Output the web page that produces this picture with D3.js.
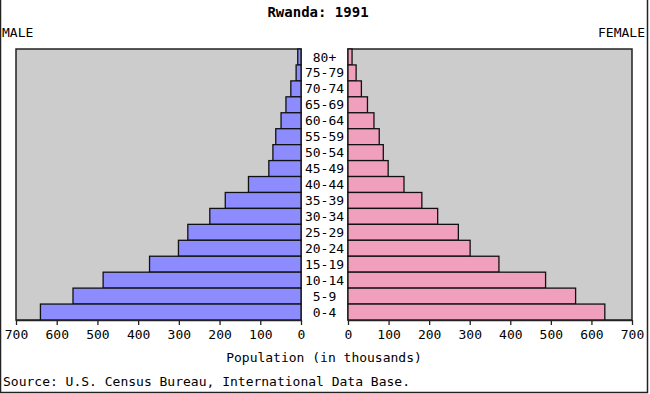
<!DOCTYPE html>
<html>
<head>
<meta charset="utf-8">
<script src="https://cdn.jsdelivr.net/npm/d3@7"></script>
<style>
  body { margin: 0; background: #fff; }
  text { font-family: "DejaVu Sans Mono", monospace; font-size: 13px; fill: #000; }
</style>
</head>
<body>
<div id="chart"></div>
<script>
// age groups, top to bottom
var ages = ["80+", "75-79", "70-74", "65-69", "60-64", "55-59", "50-54", "45-49",
            "40-44", "35-39", "30-34", "25-29", "20-24", "15-19", "10-14", "5-9", "0-4"];
// population in thousands
var male   = [8, 12, 25, 37, 49, 62, 69, 79, 129, 186, 224, 278, 301, 372, 486, 560, 640];
var female = [10, 20, 33, 48, 64, 77, 87, 99, 138, 182, 221, 272, 301, 372, 487, 561, 633];
var ticks = [0, 100, 200, 300, 400, 500, 600, 700];

var width = 650, height = 394;
var top_y = 49, bottom_y = 320;

var svg = d3.select("#chart").append("svg")
    .attr("width", width)
    .attr("height", height);

// frame (left, right, bottom)
svg.append("path")
    .attr("d", "M0.5,0 V392.5 H647.5 V0")
    .attr("fill", "none")
    .attr("stroke", "#222")
    .attr("stroke-width", 1.5);

var y = d3.scaleBand().domain(ages).range([top_y, bottom_y]).padding(0);
var xl = d3.scaleLinear().domain([0, 700]).range([301, 16]);
var xr = d3.scaleLinear().domain([0, 700]).range([348, 632]);

// panels
svg.append("rect")
    .attr("x", xl(700)).attr("y", top_y)
    .attr("width", xl(0) - xl(700)).attr("height", bottom_y - top_y)
    .attr("fill", "#cccccc").attr("stroke", "#222").attr("stroke-width", 1.5);
svg.append("rect")
    .attr("x", xr(0)).attr("y", top_y)
    .attr("width", xr(700) - xr(0)).attr("height", bottom_y - top_y)
    .attr("fill", "#cccccc").attr("stroke", "#222").attr("stroke-width", 1.5);

// male bars
svg.selectAll(".m").data(ages).enter().append("rect")
    .attr("class", "m")
    .attr("x", function(d, i) { return xl(male[i]); })
    .attr("y", function(d) { return y(d); })
    .attr("width", function(d, i) { return xl(0) - xl(male[i]); })
    .attr("height", y.bandwidth())
    .attr("fill", "#8c8cff").attr("stroke", "#111").attr("stroke-width", 1.3);

// female bars
svg.selectAll(".f").data(ages).enter().append("rect")
    .attr("class", "f")
    .attr("x", xr(0))
    .attr("y", function(d) { return y(d); })
    .attr("width", function(d, i) { return xr(female[i]) - xr(0); })
    .attr("height", y.bandwidth())
    .attr("fill", "#f0a0bc").attr("stroke", "#111").attr("stroke-width", 1.3);

// age labels
svg.selectAll(".age").data(ages).enter().append("text")
    .attr("x", 324.5)
    .attr("y", function(d) { return y(d) + y.bandwidth() / 2; })
    .attr("dy", "0.35em")
    .attr("text-anchor", "middle")
    .text(function(d) { return d; });

// axes
function styleAxis(g) {
    g.selectAll("path, line").attr("stroke", "#222").attr("stroke-width", 1.3);
    g.selectAll("text").style("font-family", "DejaVu Sans Mono, monospace").style("font-size", "13px");
}
svg.append("g")
    .attr("transform", "translate(0," + bottom_y + ")")
    .call(d3.axisBottom(xl).tickValues(ticks).tickSize(5).tickSizeOuter(0).tickPadding(5))
    .call(styleAxis);
svg.append("g")
    .attr("transform", "translate(0," + bottom_y + ")")
    .call(d3.axisBottom(xr).tickValues(ticks).tickSize(5).tickSizeOuter(0).tickPadding(5))
    .call(styleAxis);

// titles
svg.append("text").attr("x", 318).attr("y", 17).attr("text-anchor", "middle")
    .style("font-weight", "bold").style("font-size", "14px").text("Rwanda: 1991");
svg.append("text").attr("x", 2).attr("y", 37).text("MALE");
svg.append("text").attr("x", 645).attr("y", 37).attr("text-anchor", "end").text("FEMALE");
svg.append("text").attr("x", 324).attr("y", 362).attr("text-anchor", "middle")
    .text("Population (in thousands)");
svg.append("text").attr("x", 3).attr("y", 386).text("Source: U.S. Census Bureau, International Data Base.");
</script>
</body>
</html>
